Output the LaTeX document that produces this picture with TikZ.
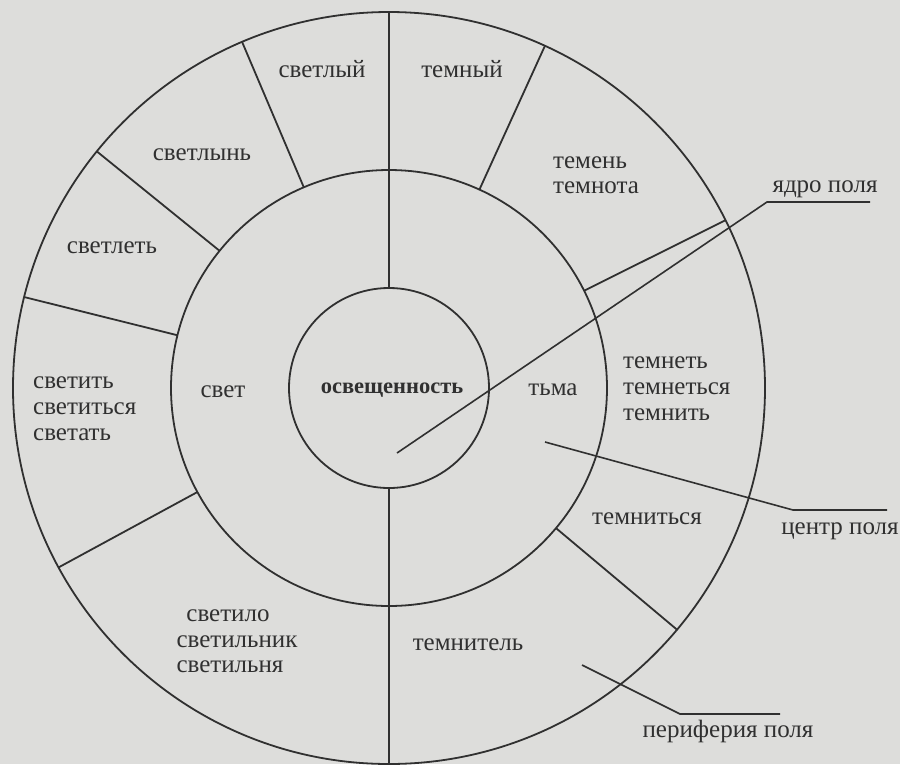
\documentclass[tikz,border=0pt]{standalone}
\usepackage{fontspec}
\setmainfont{Liberation Serif}
\usetikzlibrary{calc}
\definecolor{bg}{RGB}{221,221,219}
\definecolor{ink}{RGB}{48,48,48}
\begin{document}
\begin{tikzpicture}[x=1pt,y=-1pt,
  ring/.style={draw=ink,line width=1.8pt},
  divider/.style={draw=ink,line width=1.8pt},
  pointer/.style={draw=ink,line width=1.6pt},
  lbl/.style={text=ink,font=\fontsize{25}{27}\selectfont,inner sep=0pt,anchor=base},
  lblw/.style={lbl,anchor=base west}]
\fill[bg] (0,0) rectangle (900,764);
\useasboundingbox (0,0) rectangle (900,764);
\coordinate (O) at (389,388);
% circles
\draw[ring] (O) circle[radius=376];
\draw[ring] (O) circle[radius=218];
\draw[ring] (O) circle[radius=100];
% vertical axis
\draw[divider] ($(O)+(-90:100)$) -- ($(O)+(-90:376)$);
\draw[divider] ($(O)+(90:100)$) -- ($(O)+(90:376)$);
% dividers of the outer ring (visual angles)
\foreach \a in {113,141,166,208.5,65.5,26.5,-40}{
  \draw[divider] ($(O)+(-\a:218)$) -- ($(O)+(-\a:376)$);
}
% texts
\node[lbl] (svetlyj) at (322,77) {светлый};
\node[lbl] (temnyj) at (462,77) {темный};
\node[lbl] (svetlyn) at (202,160) {светлынь};
\node[lbl] (svetlet) at (112,253) {светлеть};
\node[lblw] (temen) at (553,168) {темень};
\node[lblw] (temnota) at (553,193) {темнота};
\node[lblw] (svetit) at (33,388) {светить};
\node[lblw] (svetitsja) at (33,414) {светиться};
\node[lblw] (svetat) at (33,440) {светать};
\node[lbl] (svet) at (223,397) {свет};
\node[lbl,font=\fontsize{22.5}{26}\selectfont\bfseries] (osv) at (392,393) {освещенность};
\node[lbl] (tma) at (553,395) {тьма};
\node[lblw] (temnet) at (623,368) {темнеть};
\node[lblw] (temnetsja) at (623,394) {темнеться};
\node[lblw] (temnit) at (623,420) {темнить};
\node[lbl] (svetilo) at (228,621) {светило};
\node[lbl] (svetilnik) at (237,647) {светильник};
\node[lbl] (svetilnja) at (230,672) {светильня};
\node[lbl] (temnitel) at (468,650) {темнитель};
\node[lbl] (temnitsja) at (647,524) {темниться};
\node[lbl] (jadro) at (825,192) {ядро поля};
\node[lbl] (centr) at (840,534) {центр поля};
\node[lbl] (perif) at (728,737) {периферия поля};
% pointers
\coordinate (jA) at (397,453);
\coordinate (jB) at (767,202);
\coordinate (jC) at (870,202);
\draw[pointer] (jA) -- (jB) -- (jC);
\coordinate (cA) at (545,442);
\coordinate (cB) at (793,510);
\coordinate (cC) at (887,510);
\draw[pointer] (cA) -- (cB) -- (cC);
\coordinate (pA) at (582,665);
\coordinate (pB) at (680,714);
\coordinate (pC) at (780,714);
\draw[pointer] (pA) -- (pB) -- (pC);
\end{tikzpicture}
\end{document}
